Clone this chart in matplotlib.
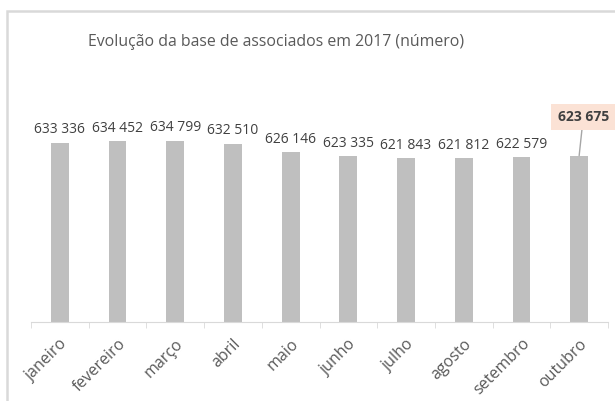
import matplotlib.pyplot as plt
from matplotlib.patches import Rectangle

# data
months = ['janeiro', 'fevereiro', 'março', 'abril', 'maio', 'junho',
          'julho', 'agosto', 'setembro', 'outubro']
members = [633336, 634452, 634799, 632510, 626146, 623335,
           621843, 621812, 622579, 623675]
labels = ['633 336', '634 452', '634 799', '632 510', '626 146', '623 335',
          '621 843', '621 812', '622 579', '623 675']

plt.rcParams['font.family'] = ['Open Sans', 'DejaVu Sans']
grey_text = '#595959'

fig = plt.figure(figsize=(6.15, 4.01), dpi=100)
ax = fig.add_axes([31 / 615, 1 - 322 / 401, (608 - 31) / 615, (322 - 133.7) / 401])

x = range(len(months))
bars = ax.bar(x, members, width=0.31, color='#bfbfbf')
ax.set_ylim(500000, 640000)
ax.set_xlim(-0.5, len(months) - 0.5)

# data labels
for i, (val, lab) in enumerate(zip(members, labels)):
    if i == len(months) - 1:
        ax.annotate(lab, xy=(i, val), xytext=(3, 28), textcoords='offset points',
                    ha='center', va='center', fontsize=10, fontweight='bold',
                    color='#404040',
                    bbox=dict(boxstyle='square,pad=0.45', fc='#fbe2d5', ec='none'),
                    arrowprops=dict(arrowstyle='-', color='#a6a6a6', lw=1,
                                    shrinkA=0, shrinkB=0))
    else:
        ax.annotate(lab, xy=(i, val), xytext=(0, 4), textcoords='offset points',
                    ha='center', va='bottom', fontsize=10, color='#404040')

# axes styling
for side in ['top', 'right', 'left']:
    ax.spines[side].set_visible(False)
ax.spines['bottom'].set_color('#d9d9d9')
ax.set_yticks([])
ax.set_xticks(list(x))
ax.set_xticklabels(months, rotation=45, ha='right', rotation_mode='anchor',
                   fontsize=11.5, color=grey_text)
ax.tick_params(axis='x', length=0, pad=10)
ax.set_xticks([i - 0.5 for i in range(len(months) + 1)], minor=True)
ax.tick_params(axis='x', which='minor', length=4, color='#d9d9d9')

fig.text(276 / 615, 1 - 42 / 401, 'Evolução da base de associados em 2017 (número)',
         ha='center', va='center', fontsize=11.4, color=grey_text)

# chart frame
fig.add_artist(Rectangle((6.5 / 615, -0.1), 2, 1 - 10.5 / 401 + 0.1,
                         transform=fig.transFigure, fill=False,
                         ec='#d9d9d9', lw=1.8))

fig.savefig('out.png', dpi=100)
